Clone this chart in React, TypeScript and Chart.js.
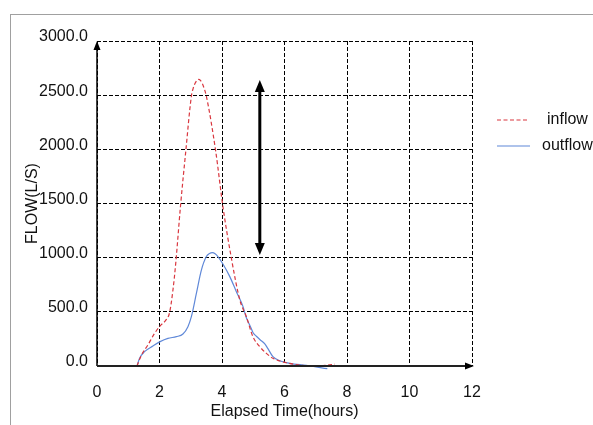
import React, { useEffect, useRef } from 'react';
import { Chart, registerables } from 'chart.js';

Chart.register(...registerables);

// ---- data ----
const xTicks = [0, 2, 4, 6, 8, 10, 12];
const yTicks = [0, 500, 1000, 1500, 2000, 2500, 3000];

const inflowX = [1.28, 1.42, 1.63, 1.84, 2.02, 2.22, 2.32, 2.43, 2.52, 2.67, 2.84, 3.02, 3.08, 3.14, 3.2, 3.25, 3.31, 3.37, 3.43, 3.5, 3.8, 4.03, 4.3, 4.57, 4.78, 4.99, 5.21, 5.42, 5.63, 6.06, 6.49, 7.03, 7.3, 7.61];
const inflowY = [0, 100, 195, 300, 370, 430, 490, 700, 950, 1470, 1980, 2490, 2565, 2610, 2637, 2645, 2636, 2608, 2562, 2490, 1980, 1470, 995, 610, 455, 270, 178, 117, 71, 30, 9, 0, 5, 18];

const outflowX = [1.28, 1.36, 1.52, 1.79, 2.02, 2.27, 2.54, 2.75, 2.91, 3.02, 3.18, 3.34, 3.5, 3.6, 3.69, 3.78, 3.87, 4.03, 4.25, 4.46, 4.67, 4.78, 4.9, 5.0, 5.1, 5.21, 5.37, 5.47, 5.63, 5.85, 6.17, 6.7, 7.37];
const outflowY = [0, 70, 132, 185, 225, 255, 271, 295, 363, 455, 670, 885, 1010, 1038, 1046, 1036, 1010, 942, 825, 686, 550, 445, 370, 305, 275, 245, 205, 160, 86, 49, 25, 5, -25];

const seriesNames = ['inflow', 'outflow'];
const xTitle = 'Elapsed Time(hours)';
const yTitle = 'FLOW(L/S)';

// double-headed annotation arrow (data coordinates)
const arrowX = 5.21;
const arrowFrom = 1025;
const arrowTo = 2641;

const RED = '#d9363e';
const BLUE = '#5f88d8';
const TEXT = '#111';
const FONT = "'Liberation Sans', Arial, sans-serif";

function toPoints(xs: number[], ys: number[]) {
  return xs.map((x, i) => ({ x, y: ys[i] }));
}

const overlayPlugin = {
  id: 'overlay',
  afterDraw(chart: any) {
    const { ctx, chartArea } = chart;
    const xs = chart.scales.x;
    const ys = chart.scales.y;
    const left = chartArea.left;
    const right = chartArea.right;
    const top = chartArea.top;
    const bottom = chartArea.bottom;
    ctx.save();

    // y axis with arrow
    ctx.strokeStyle = '#000';
    ctx.fillStyle = '#000';
    ctx.setLineDash([]);
    ctx.lineWidth = 1.5;
    ctx.beginPath();
    ctx.moveTo(left, bottom);
    ctx.lineTo(left, top + 6);
    ctx.stroke();
    ctx.beginPath();
    ctx.moveTo(left, top);
    ctx.lineTo(left - 3.5, top + 9);
    ctx.lineTo(left + 3.5, top + 9);
    ctx.closePath();
    ctx.fill();

    // x axis with arrow
    ctx.strokeStyle = '#222';
    ctx.lineWidth = 2;
    ctx.beginPath();
    ctx.moveTo(left, bottom);
    ctx.lineTo(right - 4, bottom);
    ctx.stroke();
    ctx.beginPath();
    ctx.moveTo(right + 2, bottom);
    ctx.lineTo(right - 7, bottom - 3.5);
    ctx.lineTo(right - 7, bottom + 3.5);
    ctx.closePath();
    ctx.fill();

    // annotation double arrow
    const ax = xs.getPixelForValue(arrowX);
    const ay1 = ys.getPixelForValue(arrowTo);
    const ay2 = ys.getPixelForValue(arrowFrom);
    ctx.strokeStyle = '#000';
    ctx.fillStyle = '#000';
    ctx.lineWidth = 3;
    ctx.beginPath();
    ctx.moveTo(ax, ay1 + 8);
    ctx.lineTo(ax, ay2 - 8);
    ctx.stroke();
    ctx.beginPath();
    ctx.moveTo(ax, ay1);
    ctx.lineTo(ax - 5, ay1 + 12);
    ctx.lineTo(ax + 5, ay1 + 12);
    ctx.closePath();
    ctx.fill();
    ctx.beginPath();
    ctx.moveTo(ax, ay2);
    ctx.lineTo(ax - 5, ay2 - 12);
    ctx.lineTo(ax + 5, ay2 - 12);
    ctx.closePath();
    ctx.fill();

    // legend
    const lx = right + 25;
    ctx.font = `16px ${FONT}`;
    ctx.textBaseline = 'middle';
    ctx.textAlign = 'left';
    ctx.lineWidth = 1.2;
    // inflow
    ctx.strokeStyle = RED;
    ctx.setLineDash([4, 2.5]);
    ctx.beginPath();
    ctx.moveTo(lx, 120);
    ctx.lineTo(lx + 31, 120);
    ctx.stroke();
    ctx.setLineDash([]);
    ctx.fillStyle = TEXT;
    ctx.fillText(seriesNames[0], lx + 50, 120);
    // outflow
    ctx.strokeStyle = BLUE;
    ctx.beginPath();
    ctx.moveTo(lx, 146);
    ctx.lineTo(lx + 33, 146);
    ctx.stroke();
    ctx.fillText(seriesNames[1], lx + 45, 146);

    ctx.restore();
  },
};

export default function App() {
  const canvasRef = useRef<HTMLCanvasElement | null>(null);

  useEffect(() => {
    const canvas = canvasRef.current;
    if (!canvas) return;
    const chart = new Chart(canvas, {
      type: 'line',
      data: {
        datasets: [
          {
            label: seriesNames[0],
            data: toPoints(inflowX, inflowY),
            borderColor: RED,
            borderWidth: 1.2,
            borderDash: [4, 2.5],
            pointRadius: 0,
            cubicInterpolationMode: 'monotone',
            fill: false,
            clip: false as any,
          },
          {
            label: seriesNames[1],
            data: toPoints(outflowX, outflowY),
            borderColor: BLUE,
            borderWidth: 1.2,
            pointRadius: 0,
            cubicInterpolationMode: 'monotone',
            fill: false,
            clip: false as any,
          },
        ],
      },
      options: {
        animation: false,
        responsive: false,
        maintainAspectRatio: false,
        events: [],
        layout: { padding: { left: 0, right: 121, top: 41, bottom: 0 } },
        plugins: {
          legend: { display: false },
          tooltip: { enabled: false },
        },
        scales: {
          x: {
            type: 'linear',
            min: 0,
            max: 12,
            afterBuildTicks: (s: any) => {
              s.ticks = xTicks.map((v) => ({ value: v }));
            },
            afterFit: (s: any) => {
              s.height = 59;
            },
            grid: { color: '#000', lineWidth: 1, drawTicks: false },
            border: { display: false, dash: [4, 2] },
            ticks: {
              padding: 17,
              color: TEXT,
              font: { size: 16, family: FONT },
              maxRotation: 0,
              callback: (v: any) => String(v),
            },
            title: {
              display: true,
              text: xTitle,
              color: TEXT,
              font: { size: 16, family: FONT },
              padding: { top: 0, bottom: 4 },
            },
          },
          y: {
            type: 'linear',
            min: 0,
            max: 3000,
            afterBuildTicks: (s: any) => {
              s.ticks = yTicks.map((v) => ({ value: v }));
            },
            afterFit: (s: any) => {
              s.width = 97;
            },
            grid: { color: '#000', lineWidth: 1, drawTicks: false },
            border: { display: false, dash: [4, 2] },
            ticks: {
              padding: 9,
              labelOffset: -4,
              color: TEXT,
              font: { size: 16, family: FONT },
              callback: (v: any) => Number(v).toFixed(1),
            },
            title: {
              display: true,
              text: yTitle,
              color: TEXT,
              font: { size: 16, family: FONT },
              padding: { top: 23, bottom: 0 },
            },
          },
        },
      },
      plugins: [overlayPlugin],
    });
    return () => chart.destroy();
  }, []);

  return (
    <div style={{ position: 'fixed', left: 0, top: 0, width: 593, height: 425, background: '#fff', overflow: 'hidden' }}>
      <div
        style={{
          position: 'absolute',
          left: 10,
          top: 14,
          right: -5,
          bottom: -5,
          borderTop: '1px solid #a0a0a0',
          borderLeft: '1px solid #a0a0a0',
        }}
      />
      <canvas ref={canvasRef} width={593} height={425} style={{ position: 'absolute', left: 0, top: 0, width: 593, height: 425 }} />
    </div>
  );
}
